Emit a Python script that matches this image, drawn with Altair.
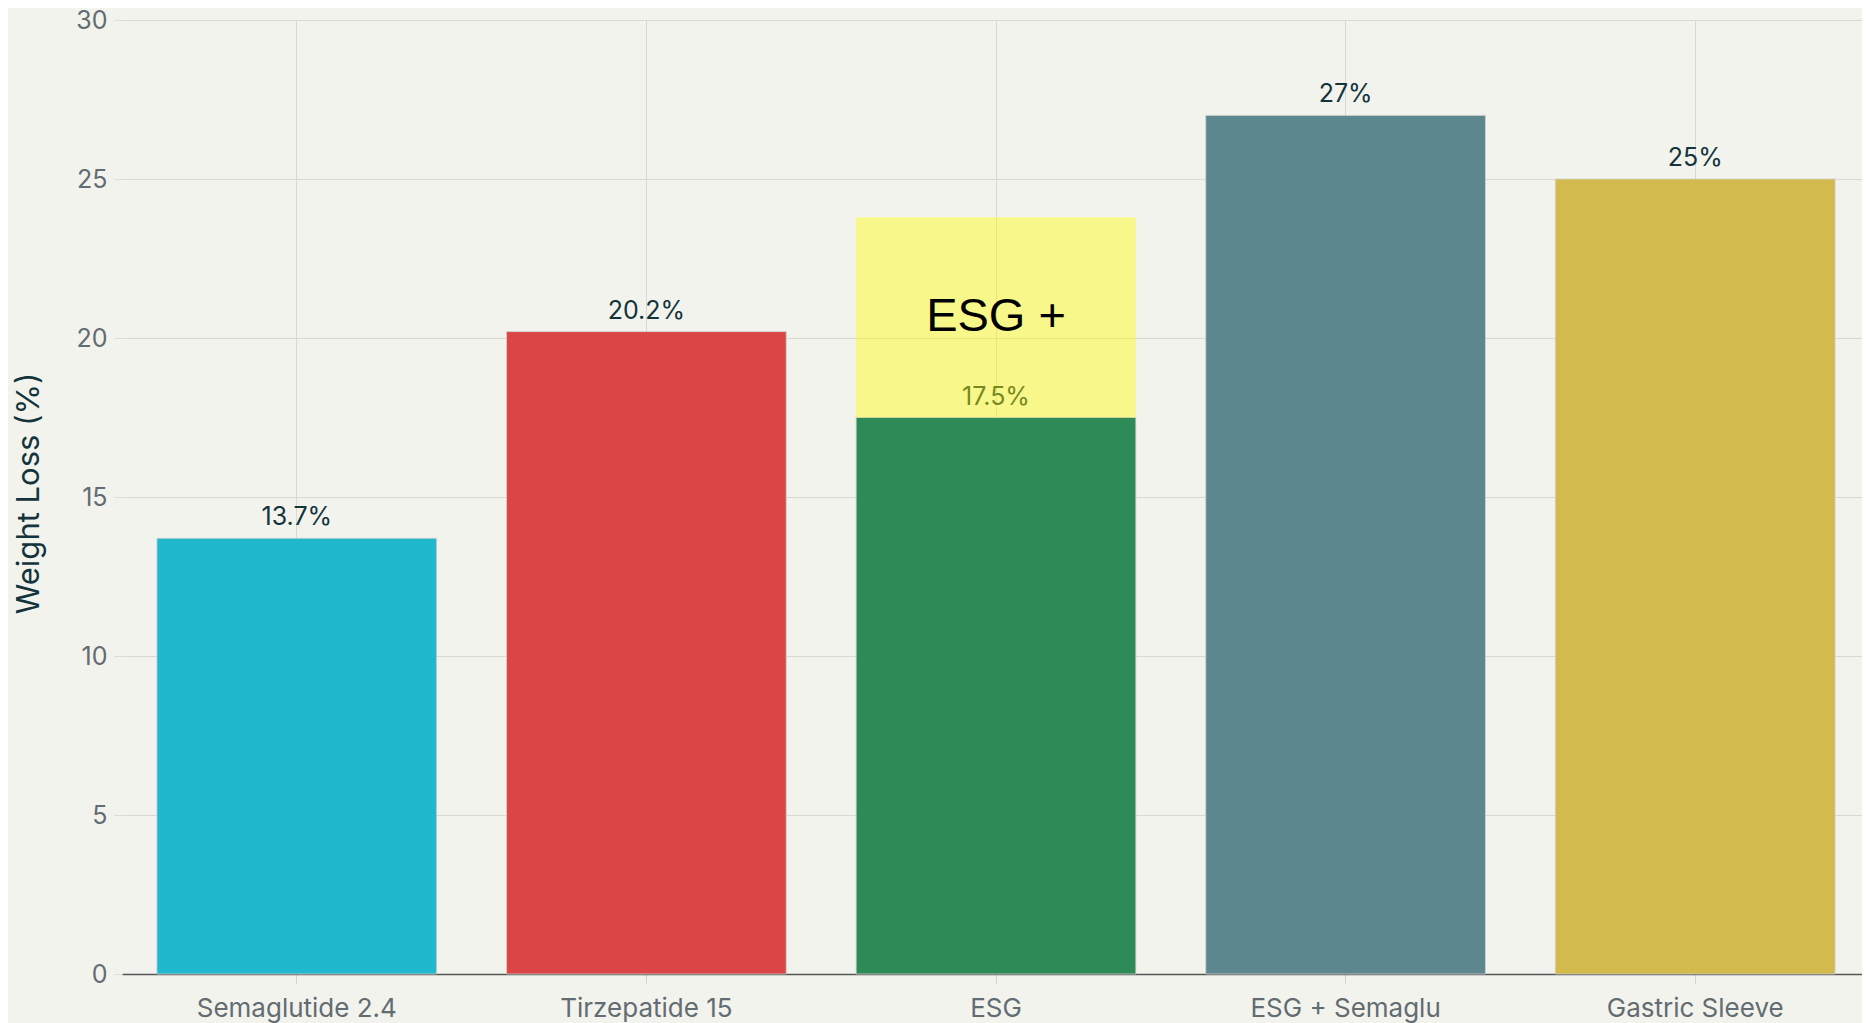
import altair as alt
import pandas as pd

# ---- data ----
categories = ["Semaglutide 2.4", "Tirzepatide 15", "ESG", "ESG + Semaglu", "Gastric Sleeve"]
values = [13.7, 20.2, 17.5, 27, 25]
value_labels = ["13.7%", "20.2%", "17.5%", "27%", "25%"]
bar_colors = ["#1FB8CD", "#DB4545", "#2E8B57", "#5D878F", "#D2BA4C"]

overlay_category = ["ESG"]
overlay_start = [17.5]
overlay_end = [23.8]
overlay_text = ["ESG +"]

y_ticks = [0, 5, 10, 15, 20, 25, 30]

df = pd.DataFrame({"cat": categories, "val": values, "label": value_labels})
ov = pd.DataFrame({"cat": overlay_category, "y0": overlay_start, "y1": overlay_end, "text": overlay_text})
ov["mid"] = (ov["y0"] + ov["y1"]) / 2

FONT = "Inter"
TEXT_DARK = "#13343B"
TEXT_GRAY = "#626C71"
GRID = "#D9D8D2"

x_scale = alt.Scale(domain=categories, paddingInner=0.2, paddingOuter=0.1, range=[0, 1748])
y_scale = alt.Scale(domain=[0, 30], nice=False)

x_axis = alt.Axis(
    title=None, labelAngle=0, labelFont=FONT, labelFontSize=26, labelColor=TEXT_GRAY,
    labelPadding=12, labelLimit=0, tickSize=9, tickColor="#D2D2CC", tickWidth=1,
    domainColor="#555555", domainWidth=1.5, grid=True, gridColor=GRID, gridWidth=1,
    bandPosition=0.5,
)
y_axis = alt.Axis(
    values=y_ticks, title="Weight Loss (%)", titleFont=FONT, titleFontSize=31,
    titleFontWeight="normal", titleColor=TEXT_DARK, titleAngle=270,
    titleX=-93, titleY=473, titleAlign="center", titleBaseline="middle",
    labelFont=FONT, labelFontSize=25, labelColor=TEXT_GRAY, labelPadding=7,
    tickSize=8, tickColor="#DDDDD8", domain=False, grid=True, gridColor=GRID, gridWidth=1,
)

bars = alt.Chart(df).mark_bar(stroke="#CFCFC9", strokeWidth=1, strokeOpacity=0.8).encode(
    x=alt.X("cat:N", scale=x_scale, axis=x_axis),
    y=alt.Y("val:Q", scale=y_scale, axis=y_axis),
    color=alt.Color("cat:N", scale=alt.Scale(domain=categories, range=bar_colors), legend=None),
)

labels = alt.Chart(df).mark_text(
    dy=-13, baseline="alphabetic", font=FONT, fontSize=25, color=TEXT_DARK
).encode(
    x=alt.X("cat:N", scale=x_scale),
    y=alt.Y("val:Q", scale=y_scale),
    text="label:N",
)

overlay = alt.Chart(ov).mark_bar(color="#FFFC00", fillOpacity=0.42, strokeWidth=0).encode(
    x=alt.X("cat:N", scale=x_scale),
    y=alt.Y("y0:Q", scale=y_scale),
    y2="y1:Q",
)

overlay_label = alt.Chart(ov).mark_text(
    font="Liberation Sans", fontSize=47, color="#000000", baseline="middle"
).encode(
    x=alt.X("cat:N", scale=x_scale),
    y=alt.Y("mid:Q", scale=y_scale),
    text="text:N",
)

chart = alt.layer(bars, labels, overlay, overlay_label).properties(
    width=1740,
    height=954,
    autosize=alt.AutoSizeParams(type="none"),
    padding={"left": 114, "top": 12, "right": 0, "bottom": 60},
    background="#F3F3EE",
).configure_view(stroke=None)

chart.save("out.html", embed_options={"renderer": "svg", "actions": False})
